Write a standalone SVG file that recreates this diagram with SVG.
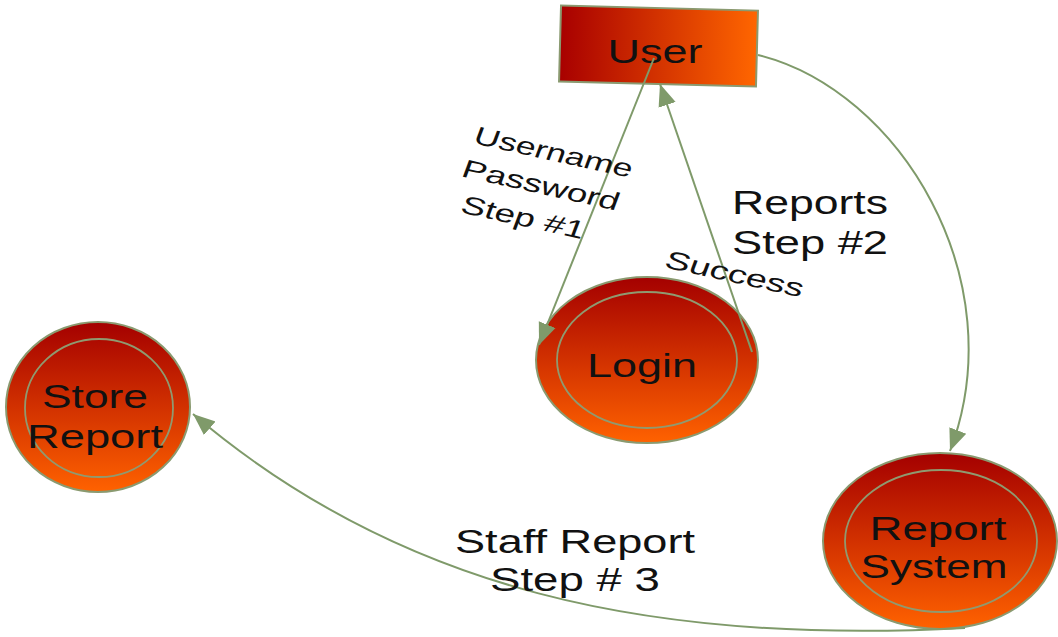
<svg xmlns="http://www.w3.org/2000/svg" width="1058" height="637" viewBox="0 0 1058 637">
  <defs>
    <linearGradient id="gradH" x1="0" y1="0" x2="1" y2="0">
      <stop offset="0" stop-color="#a80000"/>
      <stop offset="1" stop-color="#ff6600"/>
    </linearGradient>
    <linearGradient id="gradV" x1="0" y1="0" x2="0" y2="1">
      <stop offset="0" stop-color="#a40000"/>
      <stop offset="1" stop-color="#ff6200"/>
    </linearGradient>
    <marker id="arrow" markerUnits="userSpaceOnUse" markerWidth="24" markerHeight="20" refX="22" refY="10" orient="auto">
      <path d="M0,1 L22,10 L0,19 Z" fill="#7f9a6a"/>
    </marker>
  </defs>
  <style>
    .node-rect { fill: url(#gradH); stroke: #8a9a70; stroke-width: 2; }
    .outer { fill: url(#gradV); stroke: #8a9a70; stroke-width: 2; }
    .inner { fill: none; stroke: #8f9a70; stroke-width: 1.8; }
    .ntext { font-family: "Liberation Sans", Arial, sans-serif; font-size: 34px; fill: #111; text-anchor: middle; }
    .label { font-family: "Liberation Sans", Arial, sans-serif; font-size: 34px; fill: #111; }
    .slabel { font-family: "Liberation Sans", Arial, sans-serif; font-size: 25px; fill: #111; }
    .edge { fill: none; stroke: #7f9a6a; stroke-width: 2; marker-end: url(#arrow); }
  </style>

  <!-- User entity -->
  <g id="user">
    <rect class="node-rect" x="560" y="8" width="197" height="76" transform="rotate(1.5 658 46)"/>
    <text class="ntext" x="655" y="63" textLength="95" lengthAdjust="spacingAndGlyphs">User</text>
  </g>

  <!-- Login process -->
  <g id="login">
    <ellipse class="outer" cx="647" cy="360" rx="111" ry="83"/>
    <ellipse class="inner" cx="647" cy="360" rx="90" ry="68"/>
    <text class="ntext" x="642" y="377" textLength="110" lengthAdjust="spacingAndGlyphs">Login</text>
  </g>

  <!-- Store Report process -->
  <g id="store-report">
    <ellipse class="outer" cx="98" cy="407" rx="92" ry="85"/>
    <ellipse class="inner" cx="99" cy="408" rx="74" ry="69"/>
    <text class="ntext" x="95" y="408" textLength="106" lengthAdjust="spacingAndGlyphs">Store</text>
    <text class="ntext" x="95" y="448" textLength="136" lengthAdjust="spacingAndGlyphs">Report</text>
  </g>

  <!-- Report System process -->
  <g id="report-system">
    <ellipse class="outer" cx="940" cy="541" rx="117" ry="88"/>
    <ellipse class="inner" cx="941" cy="541" rx="96" ry="71"/>
    <text class="ntext" x="938" y="540" textLength="137" lengthAdjust="spacingAndGlyphs">Report</text>
    <text class="ntext" x="934" y="578" textLength="147" lengthAdjust="spacingAndGlyphs">System</text>
  </g>

  <!-- Data flows -->
  <g id="connectors">
    <path class="edge" d="M654,58 L539,345"/>
    <path class="edge" d="M752,352 L660,84"/>
    <path class="edge" d="M758,55 C900,90 1015,280 950,451"/>
    <path class="edge" d="M965,628 C650,645 400,590 193,414"/>
  </g>

  <!-- Flow labels (slanted ones share one skewed frame) -->
  <g id="labels">
    <text class="slabel" transform="translate(472,143) matrix(1.249,0.276,-0.358,0.961,0,0)" textLength="126" lengthAdjust="spacingAndGlyphs">Username</text>
    <text class="slabel" transform="translate(460,176) matrix(1.249,0.276,-0.358,0.961,0,0)" textLength="125" lengthAdjust="spacingAndGlyphs">Password</text>
    <text class="slabel" transform="translate(459,212) matrix(1.249,0.276,-0.358,0.961,0,0)" textLength="98" lengthAdjust="spacingAndGlyphs">Step #1</text>
    <text class="slabel" transform="translate(663,267) matrix(1.249,0.276,-0.358,0.961,0,0)" textLength="110" lengthAdjust="spacingAndGlyphs">Success</text>
    <text class="label" x="732" y="214" textLength="156" lengthAdjust="spacingAndGlyphs">Reports</text>
    <text class="label" x="732" y="254" textLength="156" lengthAdjust="spacingAndGlyphs">Step #2</text>
    <text class="label" x="455" y="553" textLength="240" lengthAdjust="spacingAndGlyphs">Staff Report</text>
    <text class="label" x="490" y="591" textLength="170" lengthAdjust="spacingAndGlyphs">Step # 3</text>
  </g>
</svg>
